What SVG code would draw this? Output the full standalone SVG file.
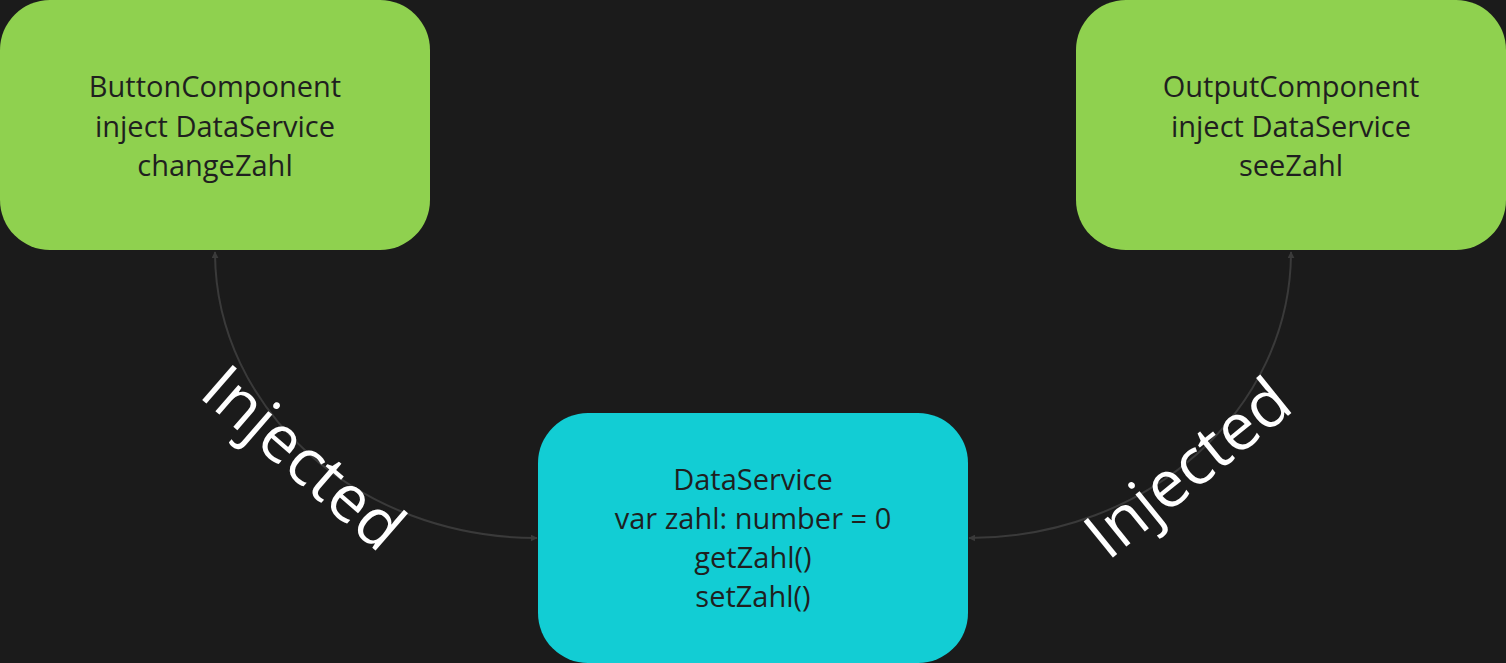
<svg xmlns="http://www.w3.org/2000/svg" width="1506" height="663" viewBox="0 0 1506 663">
<style>
.node-text{font-family:"Open Sans","Noto Sans",sans-serif;font-size:29px;fill:#1f1f1f;text-anchor:middle}
.edge{fill:none;stroke:#3a3a3a;stroke-width:2}
.label{font-family:"Open Sans","Noto Sans",sans-serif;font-size:65px;fill:#ffffff;text-anchor:middle;dominant-baseline:central}
</style>
<defs>
<marker id="arrow" viewBox="0 0 10 10" refX="9" refY="5" markerWidth="7" markerHeight="7" orient="auto-start-reverse" markerUnits="userSpaceOnUse">
<path d="M0,0 L10,5 L0,10 z" fill="#3a3a3a"/>
</marker>
</defs>
<rect width="1506" height="663" fill="#1b1b1b"/>
<g id="connectors">
<path class="edge" d="M215,252 C215,410 359,538 537,538" marker-start="url(#arrow)" marker-end="url(#arrow)"/>
<path class="edge" d="M1291,252 C1291,410 1147,538 969,538" marker-start="url(#arrow)" marker-end="url(#arrow)"/>
<text class="label" transform="translate(305,456) rotate(41)">Injected</text>
<text class="label" transform="translate(1186,466) rotate(-39)">Injected</text>
</g>
<g id="button-component">
<rect x="0" y="0" width="430" height="250" rx="50" fill="#8fd14f"/>
<text class="node-text" x="215" y="97">ButtonComponent</text>
<text class="node-text" x="215" y="137">inject DataService</text>
<text class="node-text" x="215" y="176">changeZahl</text>
</g>
<g id="output-component">
<rect x="1076" y="0" width="430" height="250" rx="50" fill="#8fd14f"/>
<text class="node-text" x="1291" y="97">OutputComponent</text>
<text class="node-text" x="1291" y="137">inject DataService</text>
<text class="node-text" x="1291" y="176">seeZahl</text>
</g>
<g id="data-service">
<rect x="538" y="413" width="430" height="250" rx="50" fill="#12cdd4"/>
<text class="node-text" x="753" y="490">DataService</text>
<text class="node-text" x="753" y="529">var zahl: number = 0</text>
<text class="node-text" x="753" y="568">getZahl()</text>
<text class="node-text" x="753" y="607">setZahl()</text>
</g>
</svg>
